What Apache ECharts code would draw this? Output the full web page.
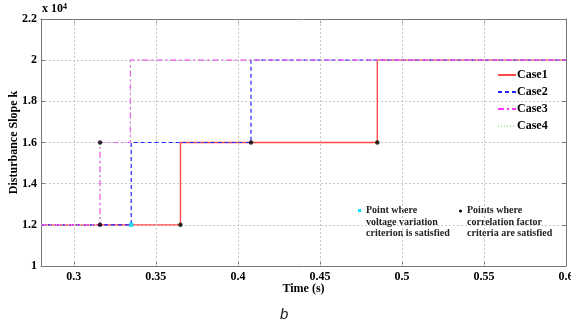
<!DOCTYPE html>
<html>
<head>
<meta charset="utf-8">
<script src="https://cdn.jsdelivr.net/npm/echarts@6/dist/echarts.min.js"></script>
<style>
  html, body { margin: 0; padding: 0; background: #fff; }
  #chart { width: 571px; height: 327px; }
</style>
</head>
<body>
<div id="chart"></div>
<script>
// step curves: time (s) where the level starts, level of k
const case1Time = [0.28, 0.365, 0.485, 0.6];
const case1K = [12000, 16000, 20000, 20000];
const case2Time = [0.28, 0.335, 0.408, 0.6];
const case2K = [12000, 16000, 20000, 20000];
const case3Time = [0.28, 0.316, 0.3345, 0.6];
const case3K = [12000, 16000, 20000, 20000];
const case4Time = [0.28, 0.316, 0.3345, 0.6];
const case4K = [12000, 16000, 20000, 20000];

// marked points
const corrTime = [0.316, 0.316, 0.365, 0.408, 0.485];
const corrK = [12000, 16000, 12000, 16000, 16000];
const voltTime = [0.335];
const voltK = [12000];

const xTicks = [0.3, 0.35, 0.4, 0.45, 0.5, 0.55, 0.6];

const FONT = '"Liberation Serif", "DejaVu Serif", serif';
const pairs = (xs, ys) => xs.map((x, i) => [x, ys[i]]);

const chart = echarts.init(document.getElementById('chart'));

const gridLine = { show: true, lineStyle: { color: '#c8c8c8', type: [2, 2], width: 1 } };

const stepSeries = (name, xs, ys, color, type, width) => ({
  name: name,
  type: 'line',
  step: 'end',
  symbol: 'none',
  data: pairs(xs, ys),
  lineStyle: { color: color, type: type, width: width },
  itemStyle: { color: color },
  z: 2,
});

chart.setOption({
  animation: false,
  grid: { left: 41, right: 5, top: 19, bottom: 61, show: false, outerBoundsMode: 'none', containLabel: false },
  xAxis: [
    {
      type: 'value',
      min: 0.28,
      max: 0.6,
      name: 'Time (s)',
      nameLocation: 'middle',
      nameGap: 17,
      nameMoveOverlap: false,
      nameTextStyle: { fontFamily: FONT, fontWeight: 'bold', fontSize: 12, color: '#000' },
      axisLine: { show: true, lineStyle: { color: '#777' } },
      axisTick: { show: true, inside: true, length: 4, lineStyle: { color: '#777' }, customValues: xTicks },
      axisLabel: {
        fontFamily: FONT, fontWeight: 'bold', fontSize: 12, color: '#000', margin: 5,
        customValues: xTicks,
        formatter: (v) => String(+v.toFixed(2)),
      },
      splitLine: { show: false },
    },
    {
      type: 'value',
      position: 'top',
      min: 0.28,
      max: 0.6,
      axisLine: { show: true, lineStyle: { color: '#777' } },
      axisTick: { show: true, inside: true, length: 4, lineStyle: { color: '#777' }, customValues: xTicks },
      axisLabel: { show: false, customValues: xTicks },
      splitLine: { show: false },
    },
  ],
  yAxis: [
    {
      type: 'value',
      min: 10000,
      max: 22000,
      interval: 2000,
      name: 'Disturbance Slope k',
      nameLocation: 'middle',
      nameGap: 21,
      nameMoveOverlap: false,
      nameTextStyle: { fontFamily: FONT, fontWeight: 'bold', fontSize: 12, color: '#000' },
      axisLine: { show: true, lineStyle: { color: '#777' } },
      axisTick: { show: true, inside: true, length: 4, lineStyle: { color: '#777' } },
      axisLabel: {
        fontFamily: FONT, fontWeight: 'bold', fontSize: 12, color: '#000', margin: 4,
        formatter: (v) => String(+(v / 10000).toFixed(1)),
      },
      splitLine: gridLine,
    },
    {
      type: 'value',
      position: 'right',
      min: 10000,
      max: 22000,
      interval: 2000,
      axisLine: { show: true, lineStyle: { color: '#777' } },
      axisTick: { show: true, inside: true, length: 4, lineStyle: { color: '#777' } },
      axisLabel: { show: false },
      splitLine: { show: false },
    },
  ],
  legend: {
    orient: 'vertical',
    left: 497,
    top: 69,
    itemWidth: 18,
    itemHeight: 9,
    itemGap: 5,
    padding: 0,
    data: ['Case1', 'Case2', 'Case3', 'Case4'],
    itemStyle: { opacity: 0 },
    textStyle: { fontFamily: FONT, fontWeight: 'bold', fontSize: 12, color: '#000', padding: [0, 0, 0, -4] },
  },
  series: [
    // vertical grid lines at the x ticks
    {
      name: 'xgrid',
      type: 'line',
      silent: true,
      data: [],
      markLine: {
        silent: true,
        symbol: 'none',
        label: { show: false },
        lineStyle: { color: '#c8c8c8', type: [2, 2], width: 1 },
        data: xTicks.slice(0, -1).map((x) => ({ xAxis: x })),
      },
      z: 1,
    },
    stepSeries('Case1', case1Time, case1K, '#ff4a4a', 'solid', 1.4),
    stepSeries('Case2', case2Time, case2K, '#2323ff', [4, 3], 1.2),
    stepSeries('Case3', case3Time, case3K, '#ff33ff', [6, 3, 2, 3], 1.2),
    stepSeries('Case4', case4Time, case4K, '#a8f0a8', [1, 2], 1),
    {
      name: 'corr',
      type: 'scatter',
      data: pairs(corrTime, corrK),
      symbol: 'circle',
      symbolSize: 4.5,
      itemStyle: { color: '#000' },
      z: 5,
    },
    {
      name: 'volt',
      type: 'scatter',
      data: pairs(voltTime, voltK),
      symbol: 'rect',
      symbolSize: 4.5,
      itemStyle: { color: '#00e5ff' },
      z: 6,
    },
  ],
  graphic: [
    {
      type: 'text',
      left: 42,
      top: 3,
      style: {
        text: '{b|x 10}{s|4}',
        rich: {
          b: { fontFamily: FONT, fontWeight: 'bold', fontSize: 12, fill: '#000', verticalAlign: 'bottom' },
          s: { fontFamily: FONT, fontWeight: 'bold', fontSize: 8, fill: '#000', verticalAlign: 'top' },
        },
      },
    },
    {
      type: 'rect',
      left: 358,
      top: 209,
      shape: { width: 3, height: 3 },
      style: { fill: '#00e5ff' },
    },
    {
      type: 'text',
      left: 366,
      top: 205,
      style: {
        text: 'Point where\nvoltage variation\ncriterion is satisfied',
        fontFamily: FONT, fontWeight: 'bold', fontSize: 10, lineHeight: 11.5, fill: '#222',
      },
    },
    {
      type: 'circle',
      shape: { cx: 460.5, cy: 211, r: 1.5 },
      style: { fill: '#000' },
    },
    {
      type: 'text',
      left: 467,
      top: 205,
      style: {
        text: 'Points where\ncorrelation factor\ncriteria are satisfied',
        fontFamily: FONT, fontWeight: 'bold', fontSize: 10, lineHeight: 11.5, fill: '#222',
      },
    },
    {
      type: 'text',
      left: 280,
      top: 307,
      style: {
        text: 'b',
        fontFamily: '"Liberation Sans", Arial, sans-serif', fontStyle: 'italic', fontSize: 15, fill: '#222',
      },
    },
  ],
});
</script>
</body>
</html>
